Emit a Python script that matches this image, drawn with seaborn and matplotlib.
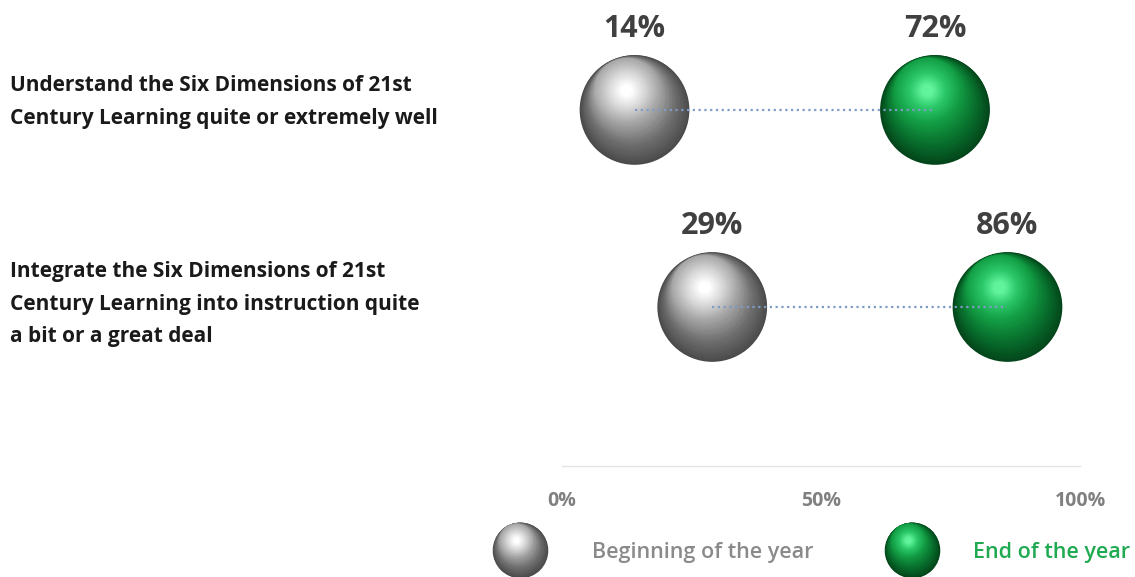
import numpy as np
import pandas as pd
import matplotlib
matplotlib.use("Agg")
import matplotlib.pyplot as plt
import seaborn as sns
from matplotlib import transforms
from matplotlib.colors import LinearSegmentedColormap

# ---------------- data ----------------
categories = [
    "Understand the Six Dimensions of 21st\nCentury Learning quite or extremely well",
    "Integrate the Six Dimensions of 21st\nCentury Learning into instruction quite\na bit or a great deal",
]
beginning = [14, 29]
end = [72, 86]
series = ["Beginning of the year", "End of the year"]
tick_values = [0, 50, 100]
tick_labels = ["0%", "50%", "100%"]

# ---------------- style ----------------
sns.set_theme(style="white")
plt.rcParams["font.family"] = ["Open Sans", "DejaVu Sans"]

W, H = 1135, 577
fig = plt.figure(figsize=(W / 100, H / 100), dpi=100)
ax = fig.add_axes([562 / W, 1 - 466 / H, (1080 - 562) / W, 466 / H])

GRAY_STOPS = [(0.0, "#4a4a4a"), (0.22, "#6f6f6f"), (0.46, "#a9a9a9"),
              (0.75, "#dadada"), (1.0, "#ffffff")]
GREEN_STOPS = [(0.0, "#03451a"), (0.22, "#08702d"), (0.46, "#14a046"),
               (0.75, "#2cc86a"), (1.0, "#62f49d")]
stops_by_series = {series[0]: GRAY_STOPS, series[1]: GREEN_STOPS}
label_colors = {series[0]: "#8a8a8a", series[1]: "#1faa52"}

DIAM = 79  # points (~110 px)


def sphere(axis, x, y, diam_pt, stops, zorder, n=60):
    """Shaded sphere built from stacked, shifted circles."""
    cmap = LinearSegmentedColormap.from_list("s", stops)
    base = axis.transData
    R = diam_pt / 2
    ux, uy = -0.38, 0.925
    norm = np.hypot(ux, uy)
    ux, uy = ux / norm, uy / norm
    hmag = 0.40 * R
    for i in range(1, n):
        t = i / (n - 1)
        r = R * (1 - 0.90 * t)
        d = min(0.95 * (R - r), hmag)
        tr = transforms.offset_copy(base, fig=axis.figure, x=ux * d, y=uy * d, units="points")
        axis.scatter([x], [y], s=(2 * r) ** 2, color=cmap(t), transform=tr,
                     linewidths=0, zorder=zorder + i * 0.001, clip_on=False)


df = pd.DataFrame({
    "row": list(range(len(categories))) * 2,
    "value": beginning + end,
    "series": [series[0]] * len(beginning) + [series[1]] * len(end),
})

# base (outer) layer of the spheres via seaborn
sns.scatterplot(data=df, x="value", y="row", hue="series",
                palette={series[0]: GRAY_STOPS[0][1], series[1]: GREEN_STOPS[0][1]},
                s=DIAM ** 2, linewidth=0, legend=False, ax=ax, zorder=2, clip_on=False)

for _, r in df.iterrows():
    sphere(ax, r["value"], r["row"], DIAM, stops_by_series[r["series"]], zorder=2)
    ax.annotate(f"{r['value']}%", (r["value"], r["row"]), xytext=(0, 58),
                textcoords="offset points", ha="center", va="center",
                fontsize=22, fontweight="bold", color="#404040")

# dotted connectors
for i in range(len(categories)):
    ax.plot([beginning[i], end[i]], [i, i], ls=(0, (1, 1.6)), lw=1.6,
            color="#7f9cc6", zorder=5)

# category labels
blend = transforms.blended_transform_factory(fig.transFigure, ax.transData)
label_offsets = [-0.04, -0.015]
for i, c in enumerate(categories):
    ax.text(10 / W, i + label_offsets[i], c, transform=blend, ha="left", va="center",
            fontsize=15, fontweight="bold", color="#1a1a1a", linespacing=1.7)

ax.set_xlim(0, 100)
ax.set_ylim(1.807, -0.558)
ax.set_xticks(tick_values, tick_labels)
ax.set_yticks([])
ax.set_xlabel("")
ax.set_ylabel("")
ax.tick_params(axis="x", length=0, pad=18, labelsize=14, labelcolor="#808080")
for lbl in ax.get_xticklabels():
    lbl.set_fontweight("bold")
for s in ["top", "left", "right"]:
    ax.spines[s].set_visible(False)
ax.spines["bottom"].set_color("#e4e4e4")
ax.spines["bottom"].set_linewidth(1)
ax.patch.set_alpha(0)

# legend
leg_ax = fig.add_axes([0, 0, 1, 1])
leg_ax.set_axis_off()
leg_ax.set_xlim(0, 1)
leg_ax.set_ylim(0, 1)
leg_y = 1 - 550 / H
leg_items = [(520 / W, 592 / W), (912 / W, 973 / W)]
for (sx, tx), name in zip(leg_items, series):
    leg_ax.scatter([sx], [leg_y], s=40 ** 2, color=stops_by_series[name][0][1],
                   linewidths=0, zorder=2)
    sphere(leg_ax, sx, leg_y, 40, stops_by_series[name], zorder=2)
    leg_ax.text(tx, leg_y - 0.004, name, ha="left", va="center", fontsize=15.5,
                fontweight="semibold", color=label_colors[name])

fig.savefig("out.png", dpi=100)
